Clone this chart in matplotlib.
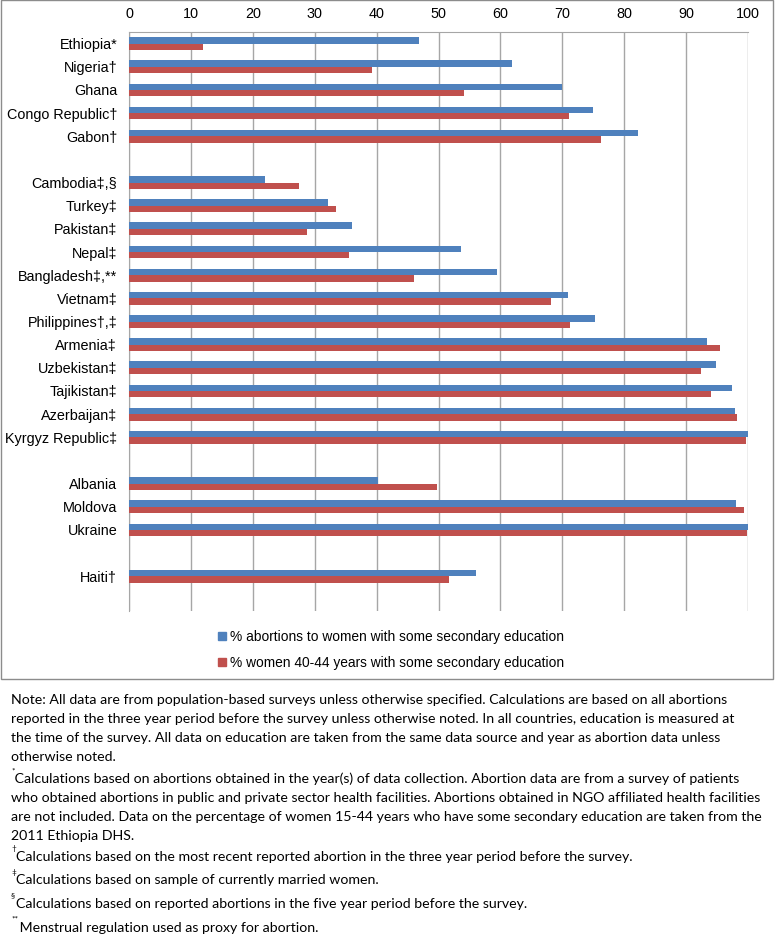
import numpy as np
import matplotlib
matplotlib.use("agg")
import matplotlib.pyplot as plt
from matplotlib.patches import Patch, Rectangle

# data ('' = empty spacer row)
countries = ['Ethiopia*', 'Nigeria†', 'Ghana', 'Congo Republic†', 'Gabon†', '',
             'Cambodia‡,§', 'Turkey‡', 'Pakistan‡', 'Nepal‡', 'Bangladesh‡,**',
             'Vietnam‡', 'Philippines†,‡', 'Armenia‡', 'Uzbekistan‡', 'Tajikistan‡',
             'Azerbaijan‡', 'Kyrgyz Republic‡', '',
             'Albania', 'Moldova', 'Ukraine', '', 'Haiti†']
abortion_pct = [46.9, 61.8, 70.0, 74.9, 82.2, np.nan,
                22.0, 32.1, 36.1, 53.6, 59.4,
                71.0, 75.3, 93.3, 94.9, 97.4,
                97.9, 100.0, np.nan,
                40.2, 98.0, 100.0, np.nan, 56.1]
women_pct = [11.9, 39.2, 54.2, 71.1, 76.2, np.nan,
             27.5, 33.4, 28.7, 35.5, 46.1,
             68.1, 71.2, 95.5, 92.4, 94.1,
             98.2, 99.7, np.nan,
             49.8, 99.3, 99.8, np.nan, 51.7]
xticks = list(range(0, 101, 10))
legend_labels = ['% abortions to women with some secondary education',
                 '% women 40-44 years with some secondary education']

note_lines = [
    "Note: All data are from population-based surveys unless otherwise specified. Calculations are based on all abortions",
    "reported in the three year period before the survey unless otherwise noted. In all countries, education is measured at",
    "the time of the survey. All data on education are taken from the same data source and year as abortion data unless",
    "otherwise noted.",
]
foot_star = [
    " Calculations based on abortions obtained in the year(s) of data collection. Abortion data are from a survey of patients",
    "who obtained abortions in public and private sector health facilities. Abortions obtained in NGO affiliated health facilities",
    "are not included. Data on the percentage of women 15-44 years who have some secondary education are taken from the",
    "2011 Ethiopia DHS.",
]
footnotes = [
    ('†', "Calculations based on the most recent reported abortion in the three year period before the survey."),
    ('‡', "Calculations based on sample of currently married women."),
    ('§', "Calculations based on reported abortions in the five year period before the survey."),
    ('**', " Menstrual regulation used as proxy for abortion."),
]

BLUE = '#4F81BD'
RED = '#C0504D'
GRID = '#A6A6A6'

W, H = 775, 935
fig = plt.figure(figsize=(W / 100, H / 100), dpi=100)

def fy(py):
    return 1 - py / H

# chart area frame
fig.patches.append(Rectangle((0.5 / W, fy(679)), 772.5 / W, 679 / H, transform=fig.transFigure,
                             fill=False, edgecolor='#8C8C8C', lw=1.0))

ax = fig.add_axes([129 / W, fy(611), (748 - 129) / W, (611 - 32) / H])
y = np.arange(len(countries))
h = 0.275
ax.barh(y - h / 2, abortion_pct, height=h, color=BLUE, zorder=3)
ax.barh(y + h / 2, women_pct, height=h, color=RED, zorder=3)

ax.set_xlim(0, 100)
ax.set_ylim(len(countries) + 0.5, -0.5)
ax.set_xticks(xticks)
ax.xaxis.tick_top()
ax.set_yticks(y)
ax.set_yticklabels(countries, fontfamily=['Liberation Sans', 'DejaVu Sans'], fontsize=10.4)
for lab in ax.get_xticklabels():
    lab.set_fontfamily(['Liberation Sans', 'DejaVu Sans'])
    lab.set_fontsize(10.4)
ax.tick_params(axis='both', length=0)
ax.tick_params(axis='x', pad=8)
ax.tick_params(axis='y', pad=8.5)
ax.grid(axis='x', color=GRID, lw=1.0, zorder=0)
ax.set_axisbelow(True)
ax.spines['right'].set_visible(False)
ax.spines['bottom'].set_visible(False)
ax.spines['top'].set_color(GRID)
ax.spines['left'].set_color(GRID)

handles = [Patch(color=BLUE), Patch(color=RED)]
fig.legend(handles, legend_labels, loc='center', bbox_to_anchor=(0.505, fy(650)),
           frameon=False, handlelength=0.55, handleheight=0.55, handletextpad=0.35,
           labelspacing=0.85, prop={'family': ['Liberation Sans', 'DejaVu Sans'], 'size': 9.9})

note_font = {'family': ['Lato', 'DejaVu Sans'], 'size': 10.15}
x0 = 11 / W
for i, line in enumerate(note_lines):
    fig.text(x0, fy(700 + 19 * i), line, va='center', ha='left', **note_font)
fig.text(x0, fy(771), '*', va='center', ha='left', family='Lato', size=6)
for i, line in enumerate(foot_star):
    fig.text(x0, fy(779 + 19 * i), line, va='center', ha='left', **note_font)
for i, (mark, line) in enumerate(footnotes):
    yy = 857 + 23.5 * i
    fig.text(x0, fy(yy - 8), mark, va='center', ha='left', family='Lato', size=6)
    fig.text(16 / W, fy(yy), line, va='center', ha='left', **note_font)

fig.savefig('out.png', dpi=100)
